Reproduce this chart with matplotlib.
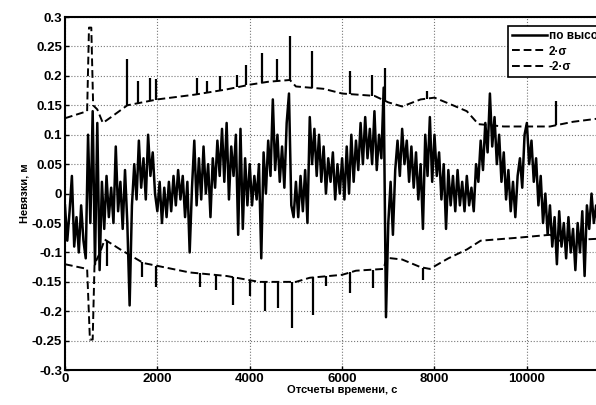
import numpy as np
import matplotlib
matplotlib.use("Agg")
import matplotlib.pyplot as plt

plt.rcParams['font.family'] = ['Liberation Sans', 'DejaVu Sans']
plt.rcParams['font.weight'] = 'bold'

# невязки по высоте, отсчеты через 50 с
t = np.arange(0, 12000, 50)
nevyazki = [
    # 0-1000
    -0.02, -0.08, -0.03, 0.03, -0.09, -0.04, -0.10, -0.02, -0.08, -0.11,
    0.10, -0.05, 0.14, -0.12, 0.12, -0.13, 0.02, -0.06, 0.03, -0.04,
    # 1000-2000
    0.01, -0.05, 0.08, -0.03, 0.02, -0.06, 0.04, -0.05, -0.19, -0.02,
    0.05, -0.01, 0.09, 0.01, 0.06, -0.01, 0.10, 0.03, 0.07, 0.00,
    # 2000-3000
    -0.03, 0.02, -0.05, 0.01, -0.04, 0.02, -0.03, 0.03, -0.02, 0.04,
    -0.01, 0.03, -0.04, 0.02, -0.10, 0.01, 0.09, -0.02, 0.06, -0.01,
    # 3000-4000
    0.08, 0.00, 0.05, -0.04, 0.06, 0.01, 0.09, 0.03, 0.11, 0.02,
    0.12, -0.01, 0.08, 0.03, 0.10, -0.07, 0.11, -0.06, 0.06, -0.02,
    # 4000-5000
    0.05, -0.02, 0.03, -0.01, 0.05, -0.11, 0.07, 0.00, 0.09, 0.03,
    0.16, 0.04, 0.10, 0.02, 0.08, 0.01, 0.12, 0.17, -0.02, -0.04,
    # 5000-6000
    0.02, -0.04, 0.03, -0.03, 0.04, -0.05, 0.13, 0.05, 0.11, 0.03,
    0.10, 0.02, 0.08, 0.00, 0.06, 0.02, 0.07, -0.01, 0.05, 0.00,
    # 6000-7000
    0.06, -0.01, 0.08, 0.00, 0.10, 0.02, 0.09, 0.04, 0.12, 0.05,
    0.13, 0.06, 0.11, 0.05, 0.14, 0.04, 0.10, 0.06, 0.18, -0.21,
    # 7000-8000
    -0.05, 0.02, -0.07, 0.04, 0.09, 0.03, 0.11, 0.05, 0.09, 0.02,
    0.08, 0.01, 0.07, -0.01, 0.05, -0.06, 0.10, 0.03, 0.13, 0.02,
    # 8000-9000
    0.10, 0.03, 0.07, -0.01, 0.05, -0.06, 0.04, -0.02, 0.03, -0.03,
    0.04, -0.02, 0.02, -0.03, 0.03, -0.02, 0.01, -0.03, 0.05, 0.02,
    # 9000-10000
    0.09, 0.04, 0.12, 0.07, 0.17, 0.08, 0.13, 0.05, 0.10, 0.02,
    0.07, -0.01, 0.04, -0.03, 0.02, -0.04, 0.03, 0.06, 0.01, 0.10,
    # 10000-11000
    0.12, 0.05, 0.09, 0.02, 0.06, -0.02, 0.03, -0.05, 0.00, -0.07,
    -0.02, -0.09, -0.04, -0.12, -0.03, -0.09, -0.05, -0.11, -0.04, -0.10,
    # 11000-12000
    -0.06, -0.13, -0.05, -0.10, -0.03, -0.14, -0.02, -0.06, 0.00, -0.05,
    -0.02, -0.07, -0.03, -0.08, -0.04, -0.09, -0.05, -0.10, -0.06, -0.09,
]

# +2 sigma
sig_up_t = [0, 480, 520, 570, 610, 700, 820, 1000, 1350, 2000, 2800, 3500,
            4000, 4400, 4870, 5000, 5600, 6000, 6700, 7000, 7300, 7700,
            8000, 8400, 8700, 8950, 9500, 10500, 11000, 12000]
sig_up = [0.128, 0.140, 0.282, 0.282, 0.150, 0.143, 0.120, 0.130, 0.150,
          0.160, 0.168, 0.177, 0.185, 0.190, 0.193, 0.182, 0.178, 0.170,
          0.166, 0.155, 0.148, 0.160, 0.163, 0.150, 0.140, 0.118, 0.114,
          0.114, 0.122, 0.132]
# -2 sigma
sig_dn_t = [0, 480, 540, 600, 640, 760, 860, 1200, 1700, 2700, 3500, 4200,
            5000, 5300, 6000, 6300, 6900, 6960, 7300, 7700, 7900, 8300,
            8700, 9000, 9800, 10500, 10700, 12000]
sig_dn = [-0.120, -0.128, -0.248, -0.248, -0.120, -0.100, -0.078, -0.095,
          -0.118, -0.134, -0.140, -0.150, -0.150, -0.143, -0.138, -0.131,
          -0.128, -0.109, -0.112, -0.125, -0.128, -0.110, -0.095, -0.080,
          -0.075, -0.070, -0.080, -0.075]

# выбросы сигмы
up_spike_t = [1340, 1590, 1840, 1980, 2850, 3070, 3360, 3720, 3930, 4260,
              4580, 4870, 5340, 6170, 6640, 6930, 7830, 10640]
up_spike = [0.228, 0.191, 0.197, 0.194, 0.197, 0.191, 0.199, 0.202, 0.219,
            0.239, 0.228, 0.267, 0.242, 0.208, 0.202, 0.214, 0.174, 0.157]
dn_spike_t = [900, 1660, 1980, 2920, 3280, 3640, 4005, 4330, 4620, 4906,
              5375, 5660, 6170, 6670, 7760]
dn_spike = [-0.123, -0.141, -0.158, -0.158, -0.163, -0.190, -0.174, -0.200,
            -0.194, -0.229, -0.206, -0.157, -0.169, -0.160, -0.146]

fig = plt.figure(figsize=(5.96, 4.05), dpi=100)
ax = fig.add_axes([0.109, 0.086, 0.93, 0.872])

ax.plot(t, nevyazki, color='black', lw=1.8, label='по высоте')
ax.plot(sig_up_t, sig_up, color='black', lw=1.4, ls=(0, (4, 2)), label='2·σ')
ax.plot(sig_dn_t, sig_dn, color='black', lw=1.4, ls=(0, (4, 2)), label='-2·σ')
ax.vlines(up_spike_t, np.interp(up_spike_t, sig_up_t, sig_up), up_spike,
          color='black', lw=1.6)
ax.vlines(dn_spike_t, dn_spike, np.interp(dn_spike_t, sig_dn_t, sig_dn),
          color='black', lw=1.6)

ax.set_xlim(0, 12000)
ax.set_ylim(-0.3, 0.3)
ax.set_xticks([0, 2000, 4000, 6000, 8000, 10000])
ax.set_yticks(np.round(np.arange(-0.3, 0.301, 0.05), 2))
ax.set_yticklabels(['-0.3', '-0.25', '-0.2', '-0.15', '-0.1', '-0.05', '0',
                    '0.05', '0.1', '0.15', '0.2', '0.25', '0.3'])
ax.tick_params(direction='in', labelsize=9.5, width=1, length=3, pad=2)
ax.grid(True, ls=':', color='#777777', lw=0.8)
for s in ax.spines.values():
    s.set_linewidth(1.5)

ax.set_xlabel('Отсчеты времени, с', fontsize=8, fontweight='bold', labelpad=0)
ax.set_ylabel('Невязки, м', fontsize=8, fontweight='bold', labelpad=2)

leg = ax.legend(loc='upper right', bbox_to_anchor=(1.0, 0.99), fontsize=8.5,
                handlelength=3.0, handletextpad=0.1, borderpad=0.3,
                labelspacing=0.3, fancybox=False, framealpha=1,
                edgecolor='black')
leg.get_frame().set_linewidth(1.2)

fig.savefig('out.png', dpi=100)
